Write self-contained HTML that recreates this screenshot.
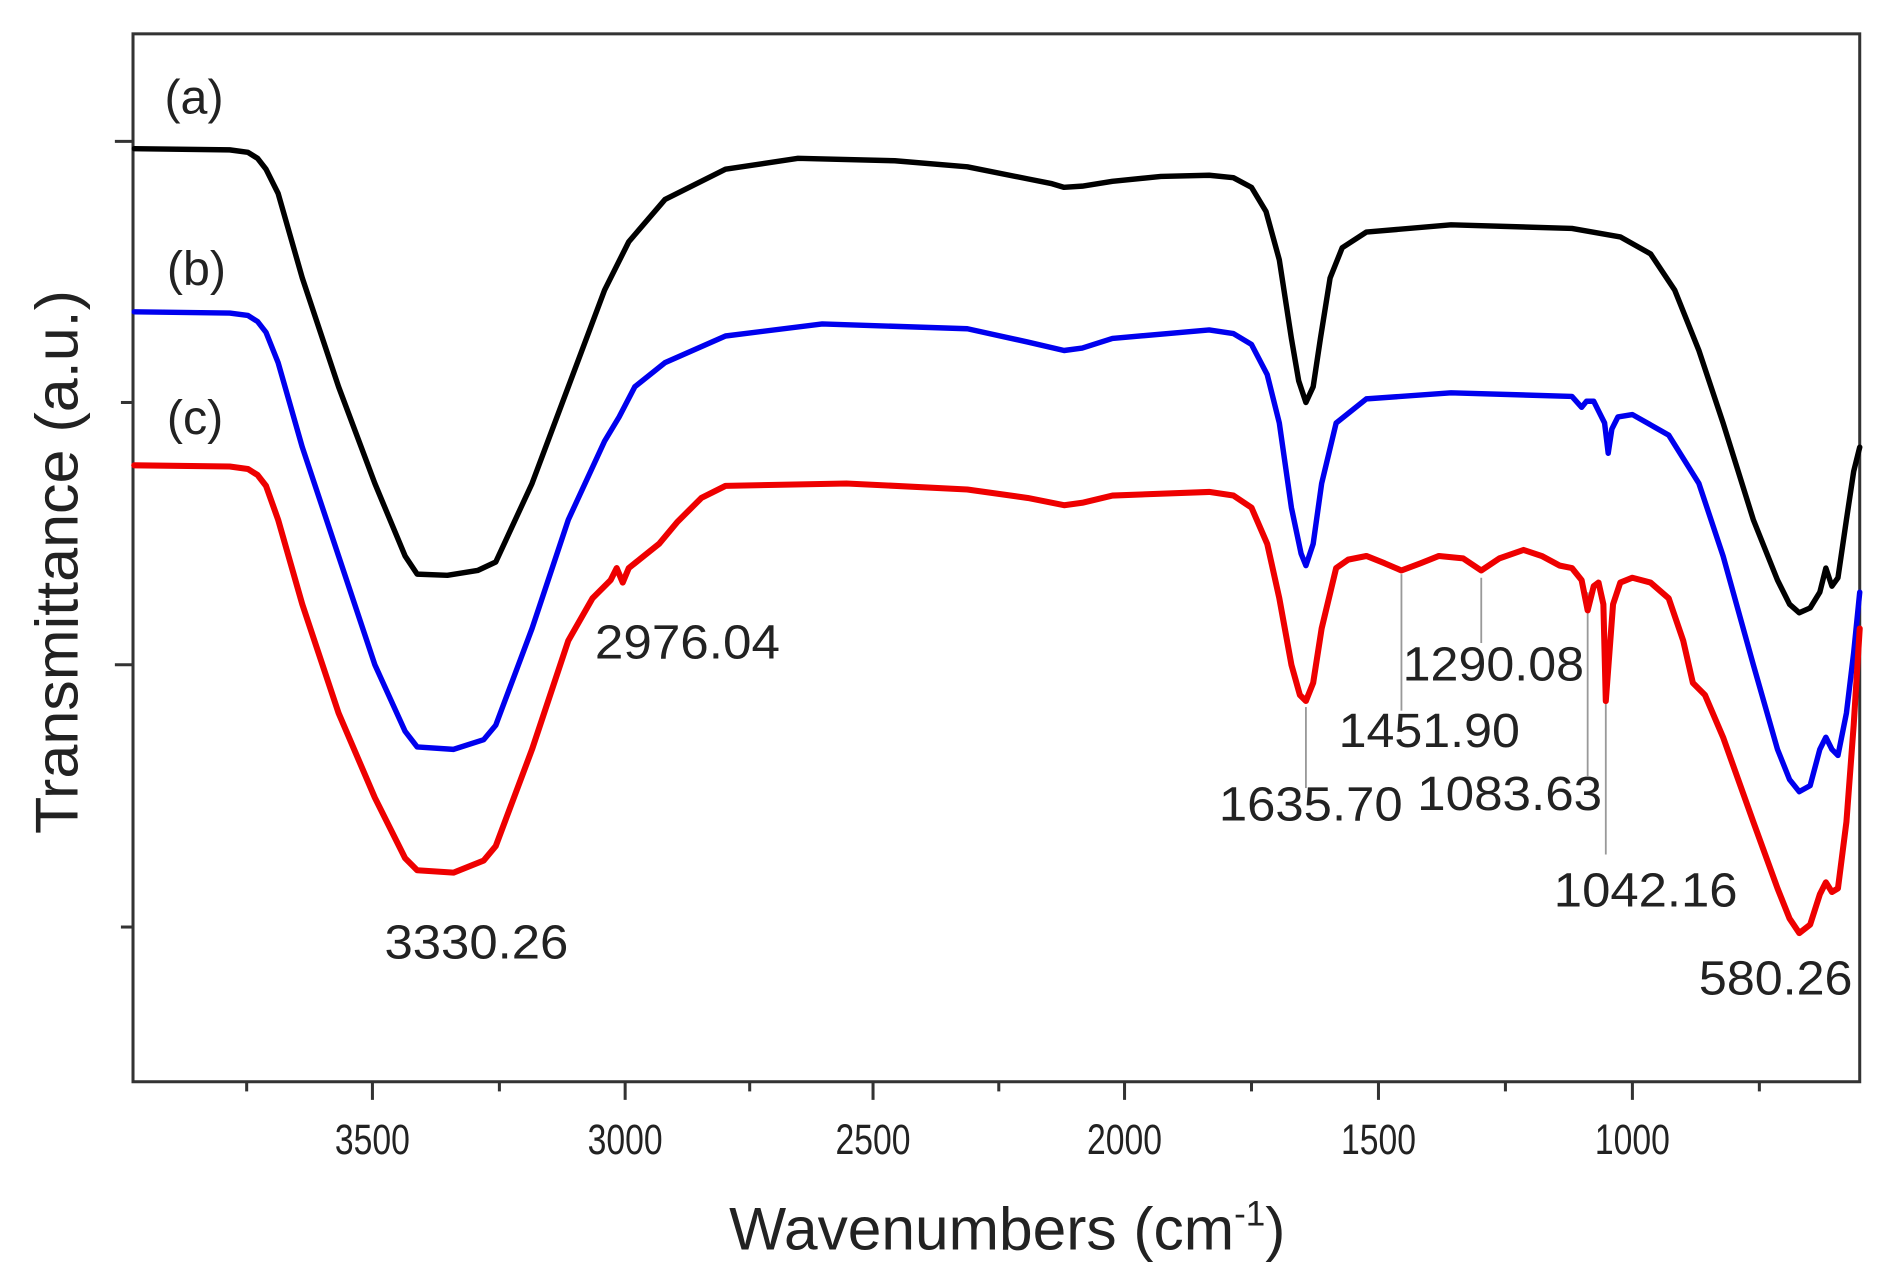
<!DOCTYPE html>
<html><head><meta charset="utf-8"><style>html,body{margin:0;padding:0;background:#fff}svg{display:block}</style></head>
<body>
<svg width="1896" height="1286" viewBox="0 0 1568 1064" preserveAspectRatio="none" xmlns="http://www.w3.org/2000/svg" font-family="Liberation Sans, Arial, sans-serif">
<rect x="0" y="0" width="1568" height="1064" fill="#fff"/>
<rect x="110" y="28" width="1428" height="867" fill="none" stroke="#333" stroke-width="2.5"/>
<g stroke="#333" stroke-width="2.5">
<line x1="308" y1="895" x2="308" y2="910"/><line x1="517" y1="895" x2="517" y2="910"/><line x1="722" y1="895" x2="722" y2="910"/><line x1="930" y1="895" x2="930" y2="910"/><line x1="1140" y1="895" x2="1140" y2="910"/><line x1="1350" y1="895" x2="1350" y2="910"/>
<line x1="204" y1="895" x2="204" y2="903"/><line x1="413" y1="895" x2="413" y2="903"/><line x1="620" y1="895" x2="620" y2="903"/><line x1="826" y1="895" x2="826" y2="903"/><line x1="1035" y1="895" x2="1035" y2="903"/><line x1="1245" y1="895" x2="1245" y2="903"/><line x1="1455" y1="895" x2="1455" y2="903"/>
<line x1="95" y1="117" x2="110" y2="117"/><line x1="100" y1="333" x2="110" y2="333"/><line x1="95" y1="550" x2="110" y2="550"/><line x1="100" y1="767" x2="110" y2="767"/>
</g>
<g font-size="35" fill="#222" text-anchor="middle">
<text x="308" y="955" textLength="62" lengthAdjust="spacingAndGlyphs">3500</text><text x="517" y="955" textLength="62" lengthAdjust="spacingAndGlyphs">3000</text><text x="722" y="955" textLength="62" lengthAdjust="spacingAndGlyphs">2500</text><text x="930" y="955" textLength="62" lengthAdjust="spacingAndGlyphs">2000</text><text x="1140" y="955" textLength="62" lengthAdjust="spacingAndGlyphs">1500</text><text x="1350" y="955" textLength="62" lengthAdjust="spacingAndGlyphs">1000</text>
</g>
<text x="603" y="1034" font-size="50" fill="#222">Wavenumbers (cm<tspan dy="-20" font-size="29">-1</tspan><tspan dy="20">)</tspan></text>
<text transform="translate(64,465) rotate(-90)" font-size="50" fill="#222" text-anchor="middle" textLength="450" lengthAdjust="spacingAndGlyphs">Transmittance (a.u.)</text>
<g font-size="40" fill="#222">
<text x="136" y="94">(a)</text><text x="138" y="236">(b)</text><text x="138" y="359">(c)</text>
</g>
<g stroke="#999" stroke-width="1.5">
<line x1="1080" y1="585" x2="1080" y2="652"/><line x1="1159" y1="475" x2="1159" y2="588"/><line x1="1225" y1="478" x2="1225" y2="532"/><line x1="1313" y1="490" x2="1313" y2="642"/><line x1="1328" y1="582" x2="1328" y2="707"/>
</g>
<g font-size="40" fill="#222">
<text x="318" y="793" textLength="152" lengthAdjust="spacingAndGlyphs">3330.26</text><text x="492" y="545" textLength="153" lengthAdjust="spacingAndGlyphs">2976.04</text><text x="1160" y="563" textLength="150" lengthAdjust="spacingAndGlyphs">1290.08</text><text x="1107" y="618" textLength="150" lengthAdjust="spacingAndGlyphs">1451.90</text><text x="1008" y="679" textLength="152" lengthAdjust="spacingAndGlyphs">1635.70</text><text x="1172" y="670" textLength="153" lengthAdjust="spacingAndGlyphs">1083.63</text><text x="1285" y="750" textLength="152" lengthAdjust="spacingAndGlyphs">1042.16</text><text x="1405" y="823" textLength="127" lengthAdjust="spacingAndGlyphs">580.26</text>
</g>
<g fill="none" stroke-width="4.5" stroke-linejoin="round" stroke-linecap="round">
<polyline stroke="#000" points="111,123 190,124 205,126 213,131 220,140 230,160 250,230 280,320 310,400 335,460 345,475 370,476 395,472 410,465 440,400 470,320 500,240 520,200 550,165 600,140 660,131 740,133 800,138 850,148 870,152 880,155 895,154 920,150 960,146 1000,145 1020,147 1035,155 1047,175 1058,215 1068,280 1074,315 1080,333 1086,320 1092,280 1100,230 1110,205 1130,192 1200,186 1300,189 1340,196 1365,210 1385,240 1405,290 1425,350 1450,430 1470,480 1480,500 1488,507 1497,503 1505,490 1510,470 1515,485 1520,478 1527,430 1533,390 1538,370"/>
<polyline stroke="#0000ee" points="111,258 190,259 205,261 213,266 220,275 230,300 250,370 280,460 310,550 335,605 345,618 375,620 400,612 410,600 440,520 470,430 500,365 512,345 525,320 550,300 600,278 680,268 800,272 850,283 880,290 895,288 920,280 1000,273 1020,276 1035,285 1048,310 1058,350 1068,420 1076,458 1080,468 1086,450 1093,400 1105,350 1130,330 1200,325 1300,328 1308,337 1312,332 1318,332 1322,340 1327,350 1330,375 1333,355 1338,345 1350,343 1380,360 1405,400 1425,460 1450,550 1470,620 1480,645 1488,655 1497,650 1505,620 1510,610 1515,620 1520,625 1527,590 1533,540 1538,490"/>
<polyline stroke="#ee0000" stroke-width="5" points="111,385 190,386 205,388 213,393 220,402 230,430 250,500 280,590 310,660 335,710 345,720 375,722 400,712 410,700 440,620 470,530 490,495 505,480 510,470 515,482 520,470 530,462 545,450 560,432 580,412 600,402 700,400 800,405 850,412 880,418 895,416 920,410 1000,407 1020,410 1035,420 1048,450 1058,495 1068,550 1075,575 1080,580 1086,565 1093,520 1105,470 1115,463 1130,460 1145,466 1159,472 1175,466 1190,460 1210,462 1225,472 1240,462 1260,455 1275,460 1290,468 1300,470 1308,480 1313,505 1318,485 1322,482 1326,500 1328,580 1331,540 1334,500 1340,482 1350,478 1365,482 1380,495 1392,530 1400,565 1410,575 1425,610 1450,680 1470,735 1480,760 1488,772 1497,765 1505,740 1510,730 1515,738 1520,735 1527,680 1533,600 1538,520"/>
</g>
</svg>
</body></html>
